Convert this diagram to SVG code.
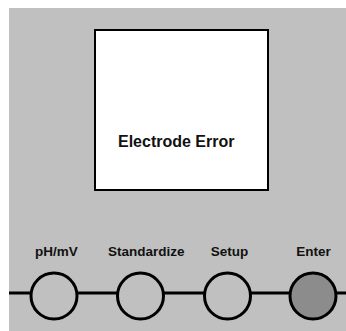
<svg xmlns="http://www.w3.org/2000/svg" width="346" height="331" viewBox="0 0 346 331">
<style>
.lbl{font-family:"Liberation Sans",Arial,sans-serif;font-weight:bold;font-size:13.5px;fill:#111;text-anchor:middle}
.btn{stroke:#000;stroke-width:3;fill:#c0c0c0}
</style>
<rect x="9" y="8" width="337" height="323" fill="#c0c0c0"/>
<g id="display">
<rect x="95" y="30" width="173" height="160" fill="#fff" stroke="#000" stroke-width="2"/>
<text x="118" y="147" font-family="Liberation Sans, Arial, sans-serif" font-weight="bold" font-size="16" fill="#111">Electrode Error</text>
</g>
<g id="connectors">
<line x1="9" y1="293" x2="346" y2="293" stroke="#000" stroke-width="3"/>
</g>
<g id="btn-phmv">
<circle class="btn" cx="54" cy="296" r="23"/>
<text class="lbl" x="56.5" y="256">pH/mV</text>
</g>
<g id="btn-standardize">
<circle class="btn" cx="140.5" cy="296" r="23"/>
<text class="lbl" x="146.3" y="256">Standardize</text>
</g>
<g id="btn-setup">
<circle class="btn" cx="227.5" cy="296" r="23"/>
<text class="lbl" x="229.5" y="256">Setup</text>
</g>
<g id="btn-enter">
<circle class="btn" cx="313" cy="296" r="23" fill="#8c8c8c" style="fill:#8c8c8c"/>
<text class="lbl" x="313.5" y="256">Enter</text>
</g>
</svg>
